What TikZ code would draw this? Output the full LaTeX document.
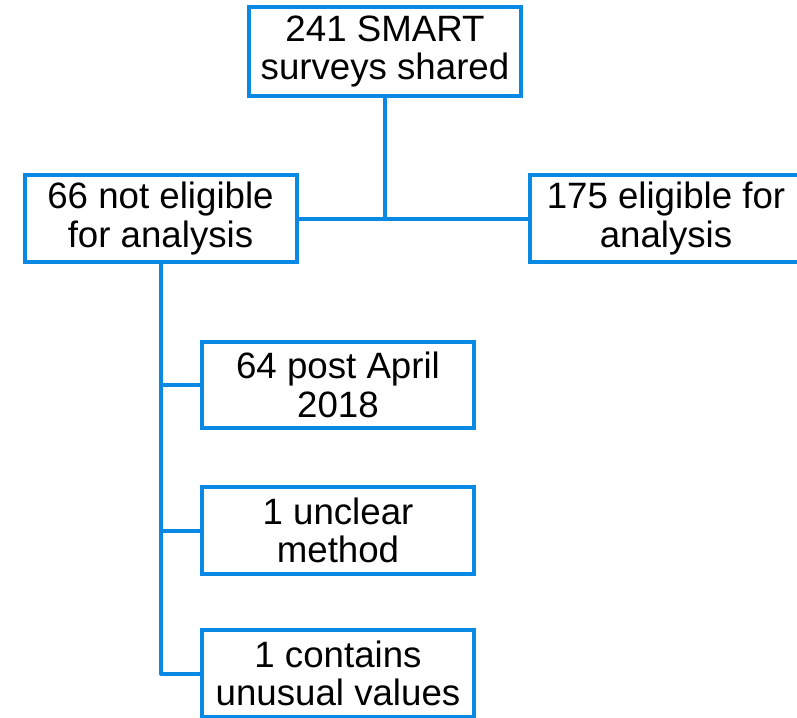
\documentclass[tikz,border=0pt]{standalone}
\usepackage{fontspec}
\setmainfont{Liberation Sans}
\definecolor{boxblue}{RGB}{10,137,228}
\begin{document}
\begin{tikzpicture}[x=0.75pt,y=-0.75pt,
  box/.style={draw=boxblue,line width=3pt,fill=white,inner sep=0pt,
    minimum width=204pt,minimum height=65pt,align=center,
    font=\fontsize{27.5}{29}\selectfont},
  link/.style={draw=boxblue,line width=3pt}]
\useasboundingbox (0,0) rectangle (797,718);
\node[box,minimum height=67pt] (top) at (385,51.5) {241 SMART\\surveys shared};
\node[box] (no) at (160.5,218.5) {66 not eligible\\for analysis};
\node[box] (yes) at (666,218.5) {175 eligible for\\analysis};
\node[box] (b1) at (338,385) {64 post April\\2018};
\node[box] (b2) at (338,530.5) {1 unclear\\method};
\node[box] (b3) at (338,673.5) {1 contains\\unusual values};
\coordinate (j) at (top.south |- no.east);
\coordinate (c1) at (161,385);
\coordinate (c2) at (161,530.5);
\coordinate (c3) at (161,673.5);
\draw[link] (top.south) -- (j);
\draw[link] (no.east) -- (yes.west);
\draw[link,line join=round] (no.south -| c1) -- (c3) -- (b3.west);
\draw[link] (c1) -- (b1.west);
\draw[link] (c2) -- (b2.west);
\end{tikzpicture}
\end{document}
